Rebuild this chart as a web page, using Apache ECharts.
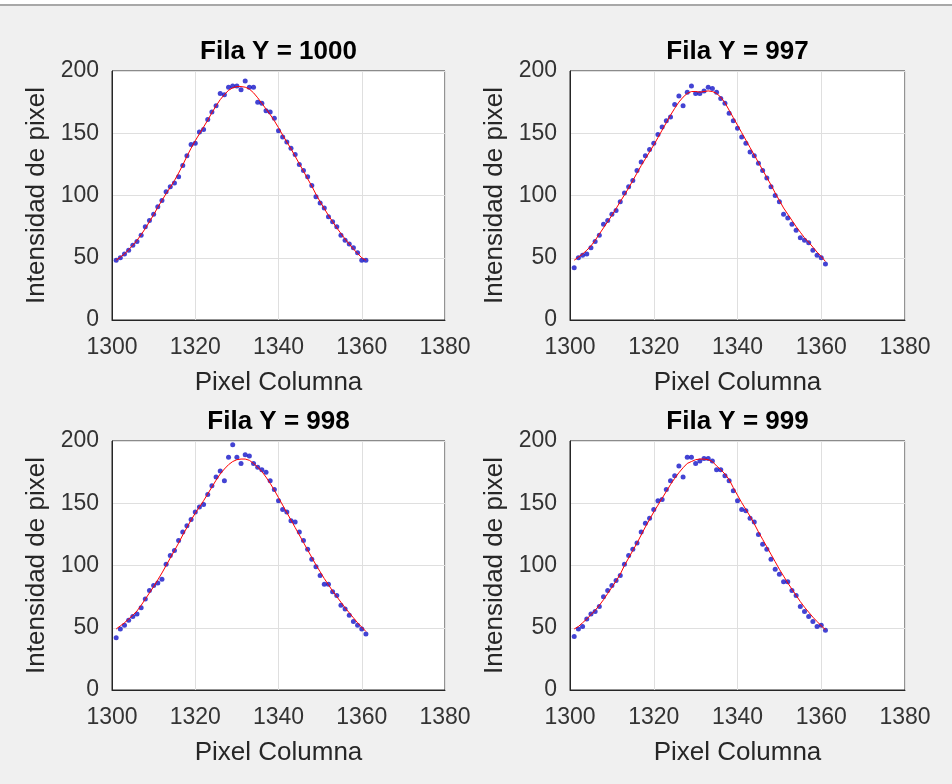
<!DOCTYPE html>
<html>
<head>
<meta charset="utf-8">
<script src="https://cdn.jsdelivr.net/npm/echarts@6/dist/echarts.min.js"></script>
<style>
html,body{margin:0;padding:0;background:#f0f0f0;}
#chart{width:952px;height:784px;}
</style>
</head>
<body>
<div id="chart"></div>
<script>
// ---- data ----
const xCols = [1301,1302,1303,1304,1305,1306,1307,1308,1309,1310,1311,1312,1313,1314,1315,1316,1317,1318,1319,1320,1321,1322,1323,1324,1325,1326,1327,1328,1329,1330,1331,1332,1333,1334,1335,1336,1337,1338,1339,1340,1341,1342,1343,1344,1345,1346,1347,1348,1349,1350,1351,1352,1353,1354,1355,1356,1357,1358,1359,1360,1361];
const xTicks = [1300, 1320, 1340, 1360, 1380];
const yTicks = [0, 50, 100, 150, 200];
const panelTitles = ['Fila Y = 1000', 'Fila Y = 997', 'Fila Y = 998', 'Fila Y = 999'];

const dots1000 = [48,50,53,56,60,63,68,75,80,85, 91,96,103,107,110,115,124,132,141,142, 151,153,161,167,172,182,181,187,188,188, 185,192,187,187,175,174,168,167,162,152, 147,143,138,133,125,120,115,108,99,94, 90,83,79,75,68,64,61,58,54,48, 48];
const fit1000 = [48,50.5,53,56.5,60,64,68.5,73.5,79,84.5, 90.5,96,101.5,106.5,112,118,124.5,131.5,138,144, 149.5,155,160.5,166.5,172,177,181,184.5,186.5,187.5, 187.5,187,185.5,182.5,178.5,174,169.5,165,160,154.5, 148.5,143,137.5,131.5,125.5,119.5,113.5,107.5,101,95, 89.5,84,79,74,69.5,65,61,57,53.5,50, 48];

const dots997 = [42,50,52,53,58,63,68,77,80,85, 88,95,102,107,112,120,127,132,137,142, 149,155,160,163,173,180,172,183,188,182, 182,184,187,186,183,178,174,166,160,154, 147,142,135,132,126,120,114,107,100,95, 85,82,77,72,66,64,62,56,52,50, 45];
const fit997 = [48,50.5,53,56,59.5,64,69,74,79,84, 89.5,95,100.5,106,112,118,124,129.5,135,140.5, 146.5,152.5,158.5,164.5,170,175,179,182,183.5,183.5, 183,183.5,184,183.5,182,179,174.5,168.5,162.5,156.5, 150.5,144.5,138.5,132.5,126.5,120.5,114.5,108.5,102,96, 90,85,80,75,70.5,66,62.5,58.5,54.5,51, 47];

const dots998 = [42,49,52,56,59,61,66,73,80,84, 86,89,101,108,112,120,127,132,137,143, 147,149,157,164,171,176,168,187,197,187, 182,189,188,182,179,177,175,168,161,152, 145,143,136,135,127,120,113,105,99,92, 85,85,79,76,68,65,60,55,52,49, 45];
const fit998 = [49,51.5,54,57,60,63.5,68,73,78,83, 88.5,94,100,106,112,118,124.5,130.5,136.5,142, 147,152,157.5,163,168.5,173.5,177.5,181,183.5,185, 185.5,185.5,184.5,182,179,175.5,171,166,160.5,154.5, 148.5,142.5,136.5,130.5,124.5,118.5,112.5,106.5,100.5,95, 89.5,84.5,79.5,75,70.5,66,62,58,54,50.5, 47];

const dots999 = [43,49,51,57,61,63,67,75,80,84, 88,92,101,108,113,118,127,134,138,145, 152,153,161,168,172,180,171,187,187,182, 184,186,186,184,177,177,172,168,160,152, 145,144,138,135,125,117,113,105,97,93, 87,87,80,76,67,63,59,55,51,52, 48];
const fit999 = [49,51,54,57,60.5,64,68,72.5,77.5,82.5, 87.5,93,100,106,112,118,124.5,131,137,143, 148.5,154,159.5,165,170,174.5,178.5,182,183.5,185, 185.5,185.5,185,183.5,180,177,173.5,169,162.5,156.5, 150.5,145,139.5,133.5,127,121,115,109,103,97, 91.5,86,81,76,71,66.5,62.5,58.5,55,51.5, 48.5];

const panelDots = [dots1000, dots997, dots998, dots999];
const panelFits = [fit1000, fit997, fit998, fit999];

// ---- layout ----
const FONT = '"Liberation Sans", Arial, Helvetica, sans-serif';
const lefts = [112, 570, 112, 570];
const tops = [71, 71, 441, 441];
const widths = [333, 335, 333, 335];
const H = 249;

const grids = [], xAxes = [], yAxes = [], series = [], titles = [];
for (let i = 0; i < 4; i++) {
  grids.push({left: lefts[i], top: tops[i], width: widths[i], height: H,
    show: true, backgroundColor: '#ffffff', borderColor: '#262626', borderWidth: 1});
  titles.push({text: panelTitles[i], left: lefts[i] + widths[i] / 2, top: tops[i] - 32,
    textAlign: 'center', padding: 0,
    textStyle: {fontFamily: FONT, fontSize: 26, fontWeight: 'bold', color: '#000000'}});
  xAxes.push({gridIndex: i, type: 'value', min: xTicks[0], max: xTicks[xTicks.length - 1], interval: 20,
    name: 'Pixel Columna', nameLocation: 'middle', nameGap: 50,
    nameTextStyle: {fontFamily: FONT, fontSize: 26, color: '#262626'},
    axisLine: {show: true, lineStyle: {color: '#262626', width: 1}},
    axisTick: {show: false},
    axisLabel: {fontFamily: FONT, fontSize: 23, color: '#333333', margin: 16,
      formatter: v => String(v)},
    splitLine: {show: true, lineStyle: {color: '#dfdfdf', width: 1}}});
  yAxes.push({gridIndex: i, type: 'value', min: yTicks[0], max: yTicks[yTicks.length - 1], interval: 50,
    name: 'Intensidad de pixel', nameLocation: 'middle', nameGap: 62, nameRotate: 90,
    nameTextStyle: {fontFamily: FONT, fontSize: 26, color: '#262626'},
    axisLine: {show: true, lineStyle: {color: '#262626', width: 1}},
    axisTick: {show: false},
    axisLabel: {fontFamily: FONT, fontSize: 23, color: '#333333', margin: 13, padding: [7, 0, 0, 0],
      formatter: v => String(v)},
    splitLine: {show: true, lineStyle: {color: '#dfdfdf', width: 1}}});
  series.push({type: 'scatter', xAxisIndex: i, yAxisIndex: i, z: 2,
    symbol: 'circle', symbolSize: 5, itemStyle: {color: '#1414c8'},
    data: xCols.map((x, k) => [x, panelDots[i][k]]), silent: true, animation: false});
  series.push({type: 'line', xAxisIndex: i, yAxisIndex: i, z: 3, showSymbol: false,
    lineStyle: {color: '#ff0000', width: 1}, itemStyle: {color: '#ff0000'},
    data: xCols.map((x, k) => [x, panelFits[i][k]]), silent: true, animation: false});
}

const chart = echarts.init(document.getElementById('chart'), null, {renderer: 'canvas'});
chart.setOption({
  backgroundColor: '#f0f0f0',
  animation: false,
  title: titles,
  grid: grids,
  xAxis: xAxes,
  yAxis: yAxes,
  series: series,
  graphic: [
    {type: 'rect', left: 0, top: 0, shape: {width: 952, height: 4}, style: {fill: '#ffffff'}, silent: true},
    {type: 'rect', left: 0, top: 4, shape: {width: 952, height: 2}, style: {fill: '#a8a8a8'}, silent: true}
  ]
});
</script>
</body>
</html>
